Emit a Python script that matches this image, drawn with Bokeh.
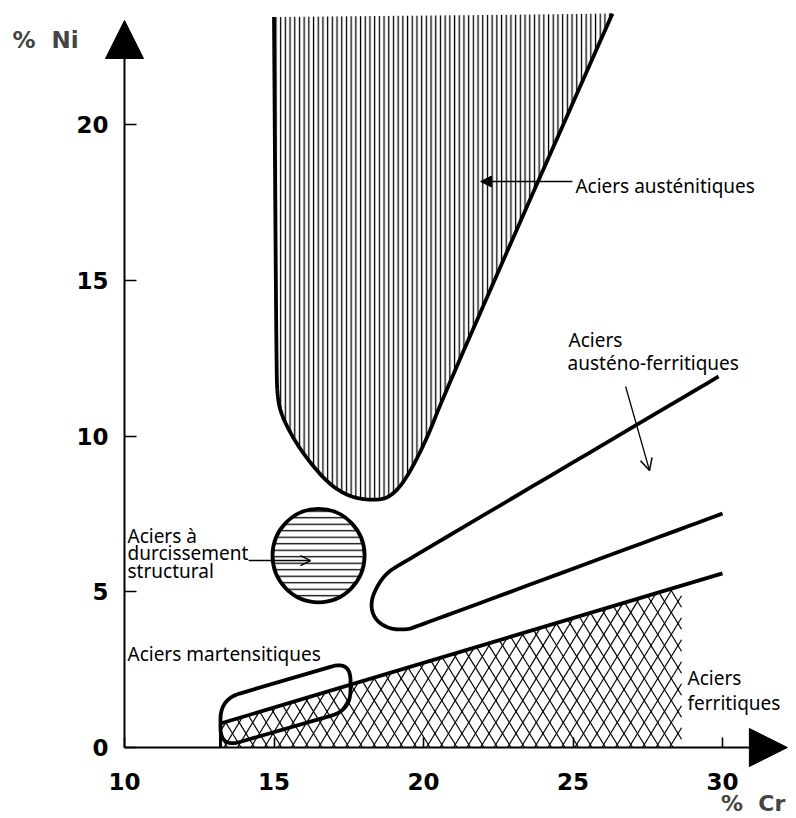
import numpy as np
from bokeh.plotting import figure
from bokeh.models import Range1d, Label, Arrow, NormalHead, OpenHead, FixedTicker
from bokeh.core.properties import value
from bokeh.embed import file_html
from bokeh.resources import INLINE

# ---------------- data (Cr %, Ni %) ----------------
cr_ticks = [10, 15, 20, 25, 30]
ni_ticks = [0, 5, 10, 15, 20]

# Austenitic steels: boundary of the domain (open at the top)
aus_cr = [15.00, 15.08, 15.12, 15.32, 15.89, 16.79, 17.56, 18.33, 18.90, 19.46, 20.13, 20.57, 22.81, 26.32]
aus_ni = [23.45, 12.20, 11.14, 10.50, 9.53, 8.48, 8.03, 7.93, 8.03, 8.67, 9.95, 11.04, 15.96, 23.56]

# Precipitation-hardening steels (disc): centre and diameters
ph_cr = [16.49]
ph_ni = [6.16]
ph_w = [3.08]
ph_h = [3.00]

# Austeno-ferritic steels: U-shaped band
af_cr = [29.87, 19.33, 18.73, 18.33, 18.23, 18.43, 18.93, 19.46, 19.67, 30.00]
af_ni = [11.91, 5.94, 5.59, 4.98, 4.49, 4.04, 3.79, 3.79, 3.85, 7.51]

# Ferritic steels: upper limit line and end of the hatched area
fer_cr = [13.21, 30.00]
fer_ni = [0.77, 5.59]
fer_hatch_end = 28.63

# Martensitic steels: corners of the rounded parallelogram
mart_cr = [13.21, 17.56, 17.56, 13.21]
mart_ni = [1.55, 2.78, 1.20, 0.00]

# texts
lab_text = ["Aciers austénitiques", "Aciers", "austéno-ferritiques",
            "Aciers à", "durcissement", "structural",
            "Aciers martensitiques", "Aciers", "ferritiques"]
lab_cr = [25.08, 24.85, 24.82, 10.10, 10.10, 10.10, 10.10, 28.83, 28.83]
lab_ni = [18.01, 13.07, 12.33, 6.80, 6.24, 5.66, 3.00, 2.22, 1.44]

# ---------------- layout constants ----------------
SX = 29.9    # px per % Cr
SY = 31.15   # px per % Ni
W, H = 796, 816
X0_PX, Y0_PX = 124, 747          # where Cr=10 / Ni=0 sit on the canvas
x_start = 10 - X0_PX / SX
x_end = 10 + (W - X0_PX) / SX
y_start = -(H - Y0_PX) / SY
y_end = Y0_PX / SY
x_tip = 32.17
y_tip = 23.34


def chaikin(xs, ys, n=3):
    P = np.column_stack([xs, ys]).astype(float)
    for _ in range(n):
        Q = [P[0]]
        for a, b in zip(P[:-1], P[1:]):
            Q.append(0.75 * a + 0.25 * b)
            Q.append(0.25 * a + 0.75 * b)
        Q.append(P[-1])
        P = np.array(Q)
    return P[:, 0], P[:, 1]


def rounded(xs, ys, r):
    X = (np.asarray(xs) - 10) * SX
    Y = np.asarray(ys) * SY
    n = len(X)
    out = []
    for i in range(n):
        P = np.array([X[i], Y[i]])
        A = np.array([X[i - 1], Y[i - 1]])
        B = np.array([X[(i + 1) % n], Y[(i + 1) % n]])
        ua = (A - P) / np.linalg.norm(A - P)
        ub = (B - P) / np.linalg.norm(B - P)
        p0 = P + r * ua
        p1 = P + r * ub
        for t in np.linspace(0, 1, 12):
            out.append((1 - t) ** 2 * p0 + 2 * t * (1 - t) * P + t ** 2 * p1)
    out.append(out[0])
    out = np.array(out)
    return out[:, 0] / SX + 10, out[:, 1] / SY


def cross_hatch(xl, xr, a_cr, a_ni, b_cr, b_ni, w=13.5, h=22.0):
    # region: xl<=x<=xr, 0<=y<=top line ; work in px
    xl_p, xr_p = (xl - 10) * SX, (xr - 10) * SX
    b = ((b_ni - a_ni) * SY) / ((b_cr - a_cr) * SX)
    a = a_ni * SY - b * (a_cr - 10) * SX
    xs, ys = [], []
    for m in (h / w, -h / w):
        cs = np.arange(-3000, 3000, h)
        for c in cs:
            lo, hi = xl_p, xr_p
            v = -c / m
            if m > 0:
                lo = max(lo, v)
            else:
                hi = min(hi, v)
            k = m - b
            v2 = (a - c) / k
            if k > 0:
                hi = min(hi, v2)
            else:
                lo = max(lo, v2)
            if hi > lo:
                px = np.array([lo, hi])
                py = c + m * px
                xs.append(list(px / SX + 10))
                ys.append(list(py / SY))
    return xs, ys


p = figure(width=W, height=H, x_range=Range1d(x_start, x_end), y_range=Range1d(y_start, y_end),
           output_backend="svg", toolbar_location=None,
           min_border=0, min_border_left=0, min_border_right=0, min_border_top=0, min_border_bottom=0)
p.outline_line_color = None
p.grid.visible = False
p.background_fill_color = "white"

# ---- ferritic hatched area ----
hx, hy = cross_hatch(fer_cr[0], fer_hatch_end, fer_cr[0], fer_ni[0], fer_cr[1], fer_ni[1])
p.multi_line(hx, hy, line_color="black", line_width=1.2)
p.line([fer_cr[0], fer_cr[0]], [0, fer_ni[0]], line_color="black", line_width=3)

# ---- austenitic domain ----
ax, ay = chaikin(aus_cr, aus_ni, 3)
p.patch(list(ax), list(ay), fill_color="white", line_color=None,
        hatch_pattern="vertical_line", hatch_scale=4.7, hatch_weight=1.3, hatch_color="black")
p.line(list(ax), list(ay), line_color="black", line_width=3.8)

# ---- precipitation hardening disc ----
p.ellipse(ph_cr, ph_ni, width=ph_w, height=ph_h, fill_color="white", line_color="black",
          line_width=3.8, hatch_pattern="horizontal_line", hatch_scale=6.5,
          hatch_weight=1.3, hatch_color="black")

# ---- austeno-ferritic band ----
fx, fy = chaikin(af_cr, af_ni, 4)
p.line(list(fx), list(fy), line_color="black", line_width=3.8, line_join="round")

# ---- ferritic limit line ----
p.line(fer_cr, fer_ni, line_color="black", line_width=3.8)

# ---- martensitic rounded box ----
mx, my = rounded(mart_cr, mart_ni, 20)
p.line(list(mx), list(my), line_color="black", line_width=3.8)

# ---- axes (fixed inside the frame) ----
p.xaxis.fixed_location = 0
p.yaxis.fixed_location = 10
for ax_ in (p.xaxis, p.yaxis):
    ax_.axis_line_color = None
    ax_.major_tick_out = 0
    ax_.minor_tick_line_color = None
    ax_.major_tick_line_width = 1.6
    ax_.major_label_text_font = "DejaVu Sans"
    ax_.major_label_text_font_style = "bold"
    ax_.major_label_text_font_size = "23px"
    ax_.major_label_text_color = "black"
p.xaxis.ticker = FixedTicker(ticks=cr_ticks)
p.yaxis.ticker = FixedTicker(ticks=ni_ticks)
p.xaxis.major_tick_in = 10
p.yaxis.major_tick_in = 12
p.xaxis.major_label_standoff = 25
p.yaxis.major_label_standoff = 16

p.add_layout(Arrow(x_start=10, y_start=0, x_end=10, y_end=y_tip, line_width=2,
                   end=NormalHead(size=38, fill_color="black", line_color="black")))
p.add_layout(Arrow(x_start=10, y_start=0, x_end=x_tip, y_end=0, line_width=2,
                   end=NormalHead(size=38, fill_color="black", line_color="black")))

p.add_layout(Label(x=6.25, y=22.72, text="% \u00a0Ni", text_font="DejaVu Sans",
                   text_font_style="bold", text_font_size="23px", text_baseline="alphabetic"))
p.add_layout(Label(x=29.95, y=-1.80, text="% \u00a0Cr", text_font="DejaVu Sans",
                   text_font_style="bold", text_font_size="22px", text_baseline="alphabetic"))

# ---- pointer arrows ----
p.add_layout(Arrow(x_start=24.98, y_start=18.17, x_end=21.91, y_end=18.17, line_width=1.3,
                   end=NormalHead(size=11, fill_color="black", line_color="black")))
p.add_layout(Arrow(x_start=26.76, y_start=11.59, x_end=27.56, y_end=8.89, line_width=1.3,
                   end=OpenHead(size=12, line_width=1.5)))
p.add_layout(Arrow(x_start=14.15, y_start=6.0, x_end=16.22, y_end=6.0, line_width=1.5,
                   end=OpenHead(size=10, line_width=1.6)))

# ---- texts ----
p.text(lab_cr, lab_ni, text=lab_text, text_font=value("Noto Sans"), text_font_size="19px",
       text_baseline="alphabetic", text_align="left", text_color="black")

open("out.html", "w").write(file_html(p, INLINE))
